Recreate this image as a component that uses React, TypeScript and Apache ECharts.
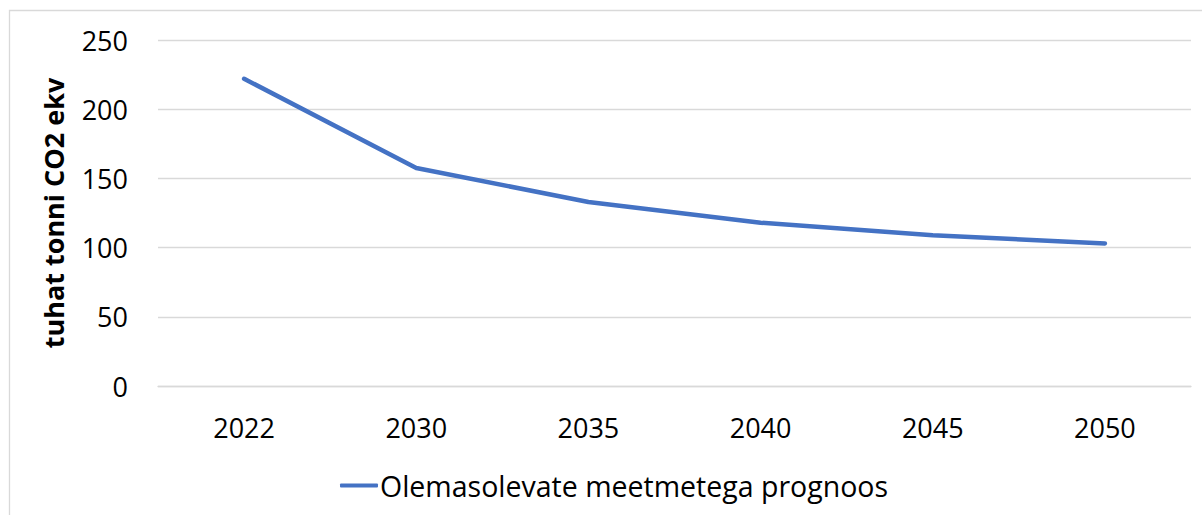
import React, { useEffect, useRef } from "react";
import * as echarts from "echarts";

const categories = ["2022", "2030", "2035", "2040", "2045", "2050"];
const seriesName = "Olemasolevate meetmetega prognoos";
const values = [222, 157.5, 133, 118, 109, 103];
const yTicks = { min: 0, max: 250, interval: 50 };
const yAxisTitle = "tuhat tonni CO2 ekv";

const FONT = "Open Sans";

export default function App() {
  const ref = useRef<HTMLDivElement>(null);
  useEffect(() => {
    if (!ref.current) return;
    const chart = echarts.init(ref.current, undefined, { renderer: "svg" });
    chart.setOption({
      animation: false,
      backgroundColor: "#ffffff",
      textStyle: { fontFamily: FONT },
      graphic: [
        {
          type: "rect",
          shape: { x: 9.5, y: 10.5, width: 1210, height: 520 },
          style: { fill: "none", stroke: "#d9d9d9", lineWidth: 1.3 },
          silent: true,
          z: -1,
        },
      ],
      grid: { left: 158, right: 11, top: 40, bottom: 129, containLabel: false },
      legend: {
        data: [seriesName],
        left: 340,
        top: 471,
        padding: 0,
        icon: "roundRect",
        itemWidth: 38,
        itemHeight: 4,
        itemGap: 10,
        textStyle: { fontFamily: FONT, fontSize: 28.5, color: "#000000", padding: [0, 0, 0, -3] },
      },
      xAxis: {
        type: "category",
        data: categories,
        boundaryGap: true,
        axisLine: { show: true, lineStyle: { color: "#d9d9d9", width: 1.3 } },
        axisTick: { show: false },
        axisLabel: { fontFamily: FONT, fontSize: 27, color: "#000000", margin: 28 },
      },
      yAxis: {
        type: "value",
        min: yTicks.min,
        max: yTicks.max,
        interval: yTicks.interval,
        name: yAxisTitle,
        nameLocation: "middle",
        nameGap: 91,
        nameRotate: 90,
        nameTextStyle: { fontFamily: FONT, fontSize: 27, fontWeight: "bold", color: "#000000" },
        axisLine: { show: false },
        axisTick: { show: false },
        axisLabel: { fontFamily: FONT, fontSize: 27, color: "#000000", margin: 30 },
        splitLine: { show: true, lineStyle: { color: "#d9d9d9", width: 1.3 } },
      },
      series: [
        {
          name: seriesName,
          type: "line",
          data: values,
          showSymbol: false,
          symbol: "none",
          lineStyle: { color: "#4472C4", width: 4.5, cap: "round", join: "round" },
          itemStyle: { color: "#4472C4" },
        },
      ],
    });
    return () => chart.dispose();
  }, []);
  return (
    <div
      ref={ref}
      style={{ position: "fixed", left: 0, top: 0, width: 1202, height: 515 }}
    />
  );
}
